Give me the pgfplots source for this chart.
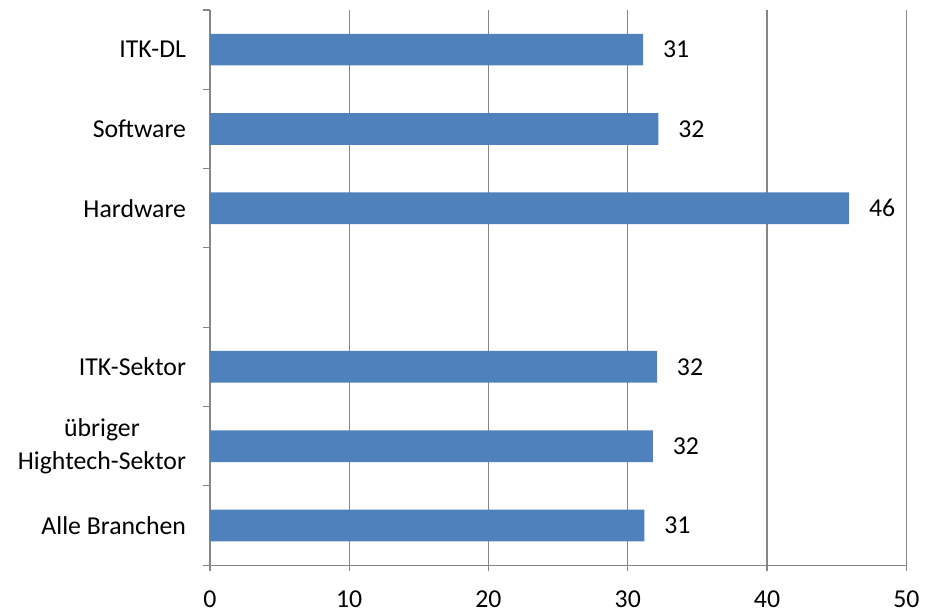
\documentclass[border=0pt]{standalone}
\usepackage{pgfplots}
\pgfplotsset{compat=1.18}
\usepackage{fontspec}
\setmainfont{Carlito}
\definecolor{barblue}{HTML}{4F81BD}
\definecolor{gridgray}{HTML}{868686}
\begin{document}
\begin{tikzpicture}
\path (-105.5bp,-23bp) rectangle (357.5bp,284bp);
\begin{axis}[
    at={(0,0)}, anchor=south west,
    scale only axis,
    width=350bp, height=279bp,
    xbar,
    bar width=0.4,
    xmin=0, xmax=50,
    ymin=-0.5, ymax=6.5,
    xtick={0,10,20,30,40,50},
    ytick={0,1,2,3,4,5,6},
    yticklabels={Alle Branchen,{übriger\\Hightech-Sektor},ITK-Sektor,,Hardware,Software,ITK-DL},
    yticklabel style={align=center, font=\fontsize{13}{16.5}\selectfont, xshift=-5.5bp},
    xticklabel style={font=\fontsize{13}{15}\selectfont, inner ysep=0pt, yshift=-9.5bp},
    /pgf/number format/assume math mode=true,
    minor ytick={-0.5,0.5,...,6.5},
    major y tick style={draw=none},
    minor y tick style={draw=gridgray, line width=0.6pt},
    minor tick length=3.5bp,
    major tick length=3bp,
    x tick style={draw=gridgray, line width=0.6pt},
    tick align=outside,
    xmajorgrids,
    grid style={gridgray, line width=0.6pt},
    axis x line*=bottom,
    axis y line*=left,
    axis line style={gridgray, line width=0.6pt, -},
    nodes near coords,
    point meta=explicit symbolic,
    every node near coord/.append style={font=\fontsize{13}{15}\selectfont, anchor=west, xshift=6.5bp},
]
\addplot[fill=barblue, draw=none] coordinates {
    (31.2,0) [31]
    (31.8,1) [32]
    (32.1,2) [32]
    (45.9,4) [46]
    (32.2,5) [32]
    (31.1,6) [31]
};
\end{axis}
\end{tikzpicture}
\end{document}
